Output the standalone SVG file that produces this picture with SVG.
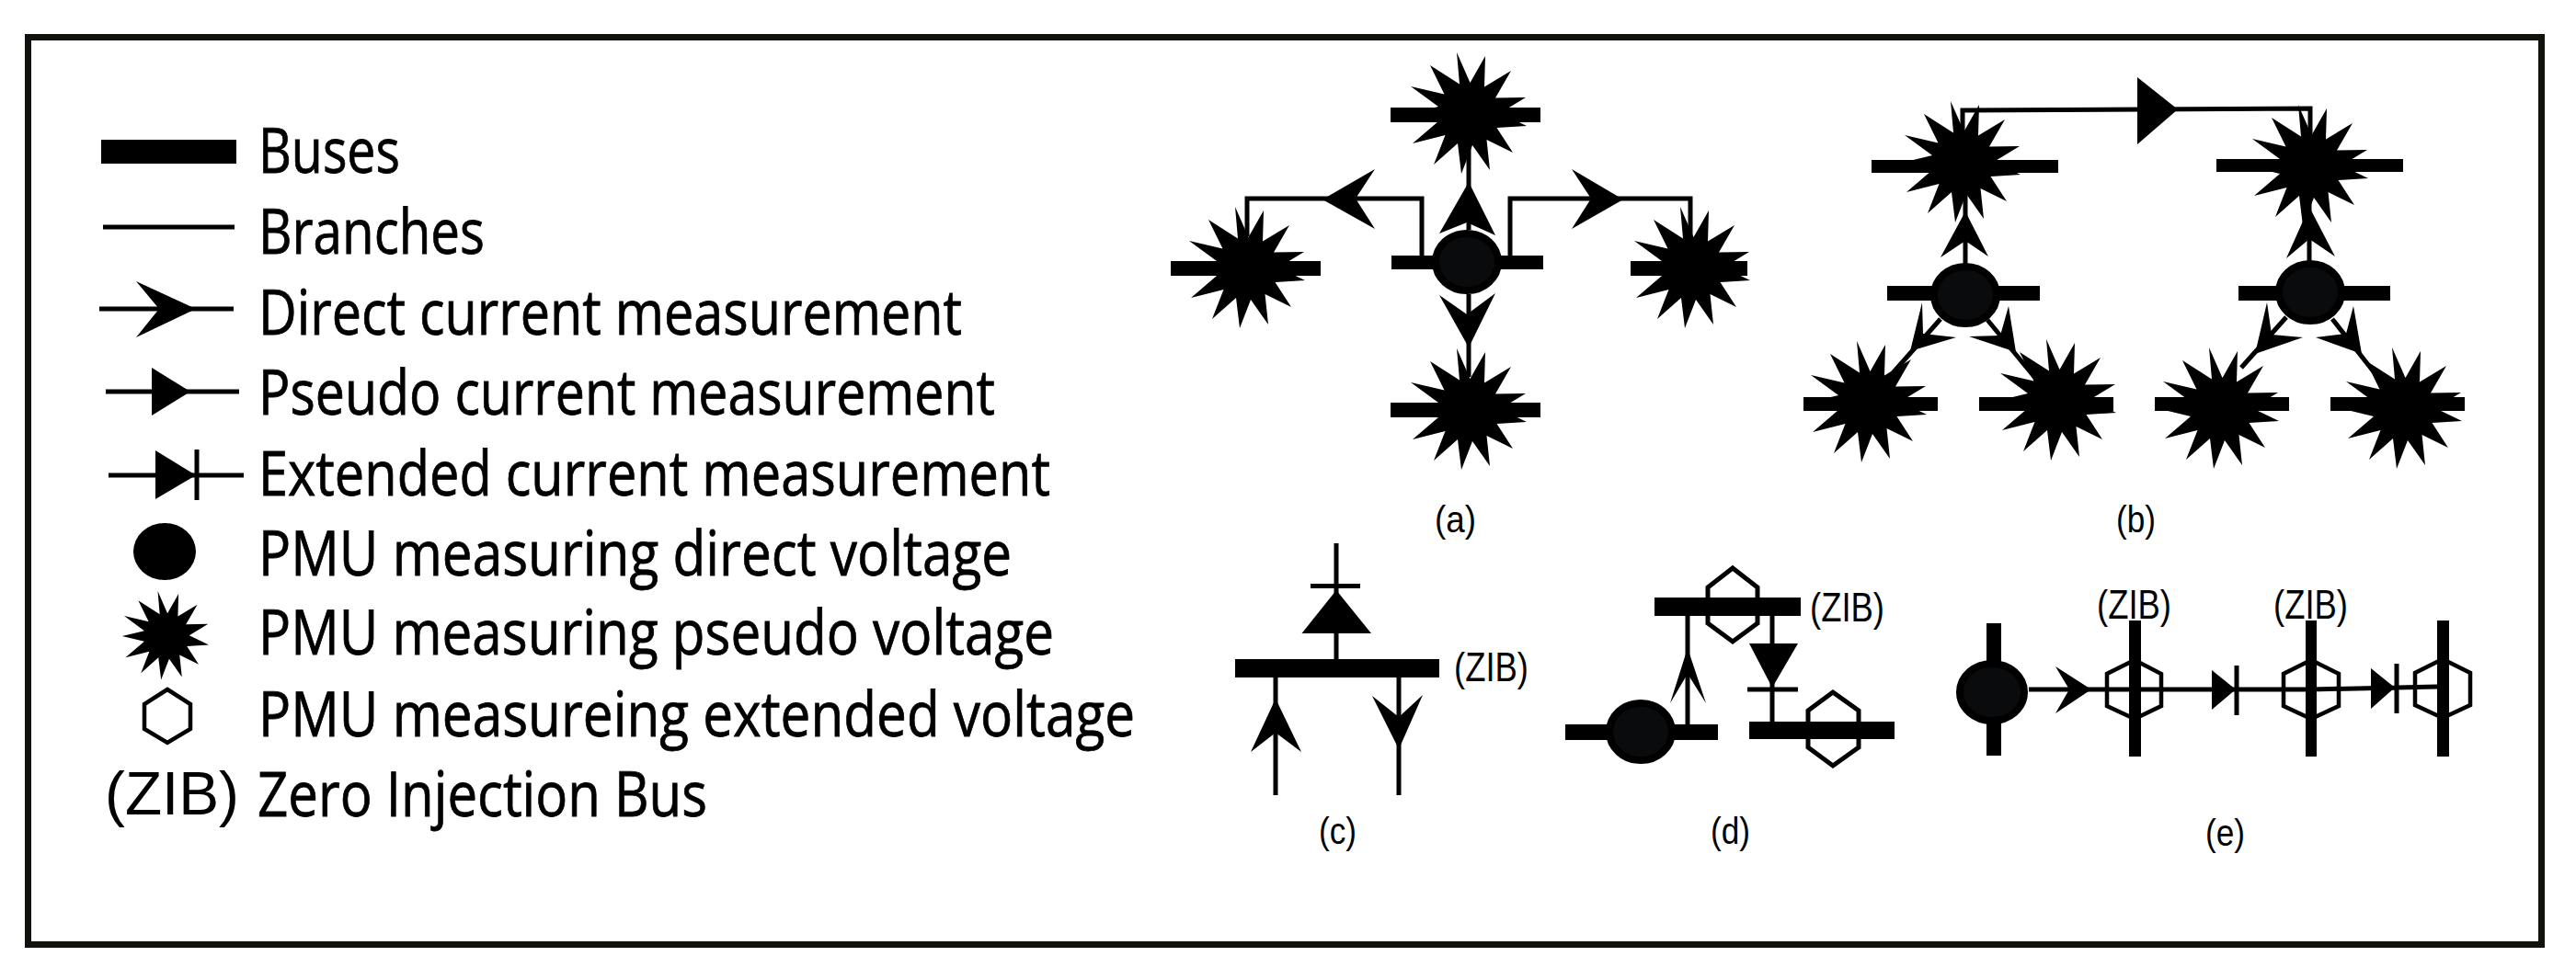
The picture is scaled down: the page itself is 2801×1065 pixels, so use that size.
<svg xmlns="http://www.w3.org/2000/svg" xmlns:xlink="http://www.w3.org/1999/xlink" width="2801" height="1065" viewBox="0 0 2801 1065">
<style>
.b{fill:#000}
.l{fill:none;stroke:#000;stroke-width:5}
.h{fill:none;stroke:#000;stroke-width:4.500}
.c{fill:#0a0b0d;stroke:#000;stroke-width:8}
.t{font-family:"Open Sans","Noto Sans",sans-serif;font-size:68px;fill:#000;stroke:#000;stroke-width:.8}
.s{font-family:"Liberation Sans",Arial,sans-serif;font-size:40px;fill:#000}
.z{font-size:44px}
</style>
<defs>
<polygon id="star" class="b" points="-13,-67 1.500,-34 18,-63 17,-29.500 46,-47 29,-17.500 62,-18 34,-1 63,13 30.500,15 48,42 19.500,28 23,61 4,34 -8,65 -12,32 -38,55 -25.500,23 -61,32 -33,8 -66,0 -33,-8 -63,-30 -26.500,-21.500 -42,-53 -10,-32.500"/>
</defs>
<rect x="30.500" y="40.500" width="2733" height="987" fill="#fff" stroke="#12120c" stroke-width="7"/>

<g id="legend">
<rect class="b" x="110" y="152" width="147" height="26"/>
<path class="l" d="M112 247H255"/>
<path class="l" d="M108 336H254"/><polygon class="b" points="213,336 148,306 173,336 148,367"/>
<path class="l" d="M115 426H260"/><polygon class="b" points="207,426 165,400 165,452"/>
<path class="l" d="M118 517H265M214 489V544"/><polygon class="b" points="213,517 169,490 169,543"/>
<ellipse class="b" cx="179" cy="600" rx="34" ry="31"/>
<use xlink:href="#star" href="#star" transform="translate(181,692) scale(.73)"/>
<polygon class="h" points="182,750 207,766 207,793 182,808 157,793 157,766"/>
<text class="t" x="281" y="188" textLength="154" lengthAdjust="spacingAndGlyphs">Buses</text>
<text class="t" x="281" y="276" textLength="246" lengthAdjust="spacingAndGlyphs">Branches</text>
<text class="t" x="281" y="364" textLength="765" lengthAdjust="spacingAndGlyphs">Direct current measurement</text>
<text class="t" x="281" y="451" textLength="801" lengthAdjust="spacingAndGlyphs">Pseudo current measurement</text>
<text class="t" x="281" y="539" textLength="861" lengthAdjust="spacingAndGlyphs">Extended current measurement</text>
<text class="t" x="281" y="626" textLength="819" lengthAdjust="spacingAndGlyphs">PMU measuring direct voltage</text>
<text class="t" x="281" y="712" textLength="865" lengthAdjust="spacingAndGlyphs">PMU measuring pseudo voltage</text>
<text class="t" x="281" y="801" textLength="953" lengthAdjust="spacingAndGlyphs">PMU measureing extended voltage</text>
<text class="t" x="280" y="888" textLength="489" lengthAdjust="spacingAndGlyphs">Zero Injection Bus</text>
<text class="s" x="114" y="886" style="font-size:66px" textLength="146" lengthAdjust="spacingAndGlyphs">(ZIB)</text>
</g>

<g id="connectors">
<path class="l" d="M1597 130V250M1597 320V410M1546 278V216H1356V257M1642 278V216H1838V260"/>
<polygon class="b" points="1597,198 1565,254 1595,242 1626,256"/>
<polygon class="b" points="1597,378 1565,321 1595,342 1626,319"/>
<polygon class="b" points="1438,217 1495,184 1474,216 1495,249"/>
<polygon class="b" points="1765,217 1709,184 1730,216 1709,249"/>

<path class="l" d="M2134 150V120L2512 118V150M2137 287V200M2511 285V200M2110 347L2057 407M2161 348L2212 410M2486 345L2437 400M2536 347L2583 407"/>
<polygon class="b" points="2368,119 2324,84 2324,157"/>
<polygon class="b" points="2137,230 2110,280 2137,262 2162,279"/>
<polygon class="b" points="2511,225 2486,281 2511,260 2539,279"/>
<polygon class="b" points="2077,382 2090,329 2091,363 2127,367"/>
<polygon class="b" points="2192,383 2184,333 2175,365 2141,366"/>
<polygon class="b" points="2452,385 2465,329 2470,364 2504,367"/>
<polygon class="b" points="2568,385 2559,333 2551,363 2518,367"/>

<path class="l" d="M1453 591V717M1425 637.500H1479M1387 737V865M1521 737V865"/>
<polygon class="b" points="1453,642 1415.500,689 1491,689"/>
<polygon class="b" points="1387,760 1360,818 1387,797 1415,818"/>
<polygon class="b" points="1521,815 1492,757 1521,780 1547,756"/>

<path class="l" d="M1835 670V788M1927 670V785M1900 750H1955"/>
<polygon class="b" points="1835,705 1816,765 1835,733 1855,765"/>
<polygon class="b" points="1902,700 1955,700 1927,748"/>

<path class="l" d="M2206 750H2513L2650 747M2432 724V778M2606 722V776"/>
<polygon class="b" points="2274,750 2235,725 2250,750 2235,776"/>
<polygon class="b" points="2431,750 2405,729 2405,772"/>
<polygon class="b" points="2604,748 2578,727 2578,771"/>
</g>

<g id="panel-a">
<g id="a-top"><rect class="b" x="1512" y="117" width="163" height="16"/><use xlink:href="#star" href="#star" x="1597" y="124"/></g>
<g id="a-left"><rect class="b" x="1273" y="284" width="163" height="16"/><use xlink:href="#star" href="#star" x="1356" y="292"/></g>
<g id="a-center"><rect class="b" x="1513" y="278" width="165" height="15"/><ellipse class="c" cx="1595" cy="285" rx="34" ry="31"/></g>
<g id="a-right"><rect class="b" x="1773" y="284" width="127" height="16"/><use xlink:href="#star" href="#star" x="1840" y="292"/></g>
<g id="a-bottom"><rect class="b" x="1512" y="438" width="163" height="16"/><use xlink:href="#star" href="#star" x="1597" y="446"/></g>
<text class="s" x="1560" y="579" textLength="45" lengthAdjust="spacingAndGlyphs">(a)</text>
</g>

<g id="panel-b">
<g id="b-tl"><rect class="b" x="2035" y="174" width="203" height="14"/><use xlink:href="#star" href="#star" x="2134" y="177"/></g>
<g id="b-tr"><rect class="b" x="2410" y="173" width="203" height="14"/><use xlink:href="#star" href="#star" x="2512" y="181"/></g>
<g id="b-ml"><rect class="b" x="2052" y="311" width="166" height="16"/><ellipse class="c" cx="2137" cy="321" rx="34" ry="31"/></g>
<g id="b-mr"><rect class="b" x="2434" y="311" width="165" height="16"/><ellipse class="c" cx="2512" cy="318" rx="34" ry="31"/></g>
<g id="b-b1"><rect class="b" x="1961" y="432" width="146" height="15"/><use xlink:href="#star" href="#star" x="2032" y="438"/></g>
<g id="b-b2"><rect class="b" x="2152" y="432" width="146" height="15"/><use xlink:href="#star" href="#star" x="2238" y="436"/></g>
<g id="b-b3"><rect class="b" x="2343" y="432" width="146" height="15"/><use xlink:href="#star" href="#star" x="2415" y="445"/></g>
<g id="b-b4"><rect class="b" x="2534" y="432" width="146" height="15"/><use xlink:href="#star" href="#star" x="2614" y="445"/></g>
<text class="s" x="2301" y="579" textLength="43" lengthAdjust="spacingAndGlyphs">(b)</text>
</g>

<g id="panel-c">
<g id="c-bus"><rect class="b" x="1343" y="717" width="222" height="20"/></g>
<text class="s z" x="1581" y="741" textLength="81" lengthAdjust="spacingAndGlyphs">(ZIB)</text>
<text class="s" x="1434" y="918" textLength="41" lengthAdjust="spacingAndGlyphs">(c)</text>
</g>

<g id="panel-d">
<g id="d-top"><rect class="b" x="1799" y="650" width="159" height="20"/><polygon class="l" points="1884,618 1911,639 1911,678 1884,698 1857,678 1857,639"/></g>
<g id="d-left"><rect class="b" x="1702" y="788" width="166" height="17"/><ellipse class="c" cx="1784" cy="796" rx="34" ry="31"/></g>
<g id="d-right"><rect class="b" x="1902" y="785" width="158" height="19"/><polygon class="l" points="1993,753 2021,773 2021,813 1993,833 1966,813 1966,773"/></g>
<text class="s z" x="1968" y="676" textLength="81" lengthAdjust="spacingAndGlyphs">(ZIB)</text>
<text class="s" x="1860" y="918" textLength="43" lengthAdjust="spacingAndGlyphs">(d)</text>
</g>

<g id="panel-e">
<g id="e-1"><rect class="b" x="2160" y="678" width="16" height="144"/><ellipse class="c" cx="2166" cy="753" rx="35" ry="31"/></g>
<g id="e-2"><rect class="b" x="2315" y="675" width="13" height="148"/><polygon class="h" points="2321,718 2350,733 2350,768 2321,782 2291,768 2291,733"/></g>
<g id="e-3"><rect class="b" x="2507" y="675" width="12" height="148"/><polygon class="h" points="2513,718 2543,733 2543,768 2513,782 2483,768 2483,733"/></g>
<g id="e-4"><rect class="b" x="2650" y="675" width="13" height="148"/><polygon class="h" points="2656,717 2686,732 2686,767 2656,781 2626,767 2626,732"/></g>
<text class="s z" x="2280" y="673" textLength="81" lengthAdjust="spacingAndGlyphs">(ZIB)</text>
<text class="s z" x="2472" y="673" textLength="81" lengthAdjust="spacingAndGlyphs">(ZIB)</text>
<text class="s" x="2398" y="920" textLength="43" lengthAdjust="spacingAndGlyphs">(e)</text>
</g>
</svg>
